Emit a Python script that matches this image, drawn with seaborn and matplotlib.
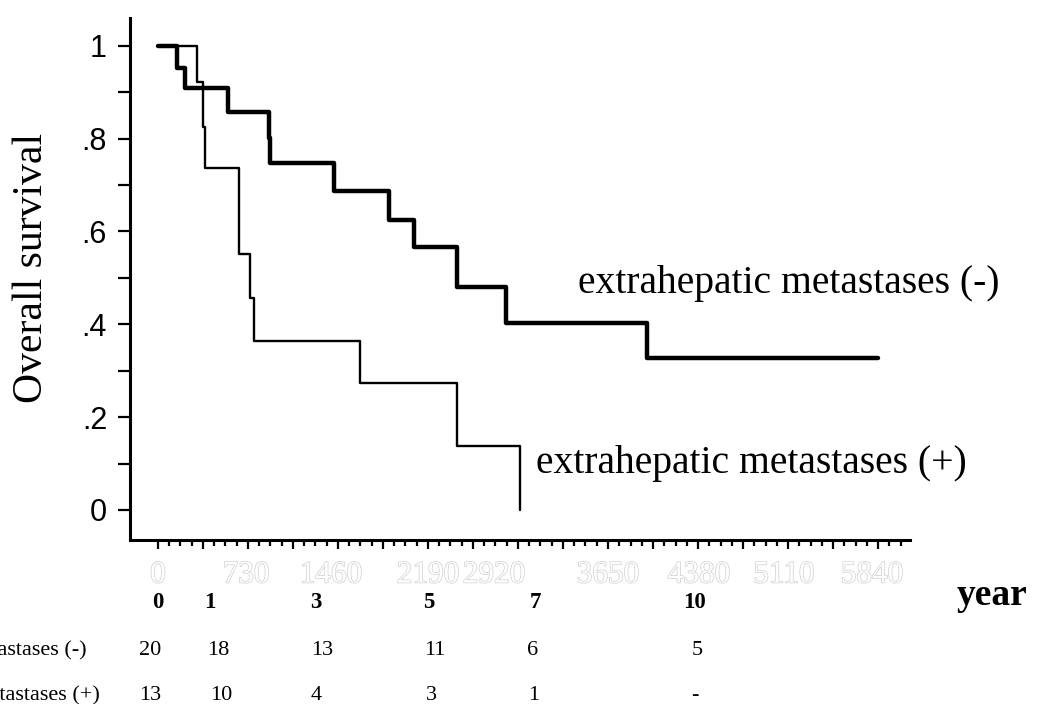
import matplotlib.pyplot as plt
import matplotlib.patheffects as pe
from matplotlib.transforms import blended_transform_factory
import seaborn as sns
import pandas as pd
import numpy as np

"""data read off the figure (days, survival)"""
days_neg = [0, 152, 219, 568, 900, 908, 1428, 1874, 2076, 2425, 2823, 3966, 5840]
surv_neg = [1.0, 0.952, 0.909, 0.857, 0.802, 0.748, 0.687, 0.625, 0.567, 0.481, 0.403, 0.327, 0.327]
days_pos = [0, 316, 365, 381, 657, 746, 779, 1638, 2425, 2936]
surv_pos = [1.0, 0.922, 0.826, 0.737, 0.552, 0.457, 0.364, 0.274, 0.138, 0.0]

day_labels = ["0", "730", "1460", "2190", "2920", "3650", "4380", "5110", "5840"]
day_label_x = [0, 714, 1403, 2190, 2725, 3650, 4388, 5077, 5791]
year_labels = ["0", "1", "3", "5", "7", "10"]
year_x = [0, 420, 1280, 2200, 3060, 4350]
risk_neg = ["20", "18", "13", "11", "6", "5"]
risk_neg_x = [-65, 487, 1330, 2247, 3042, 4372]
risk_pos = ["13", "10", "4", "3", "1", "-"]
risk_pos_x = [-65, 511, 1282, 2222, 3050, 4356]
group_names = ["extrahepatic metastases (-)", "extrahepatic metastases (+)"]

df_neg = pd.DataFrame({"day": days_neg, "surv": surv_neg})
df_pos = pd.DataFrame({"day": days_pos, "surv": surv_pos})

sns.set_style("ticks")
plt.rcParams['font.family'] = ['Liberation Serif', 'DejaVu Serif']
plt.rcParams['text.color'] = 'black'
plt.rcParams['axes.labelcolor'] = 'black'
plt.rcParams['xtick.color'] = 'black'
plt.rcParams['ytick.color'] = 'black'

fig = plt.figure(figsize=(10.39, 7.04), dpi=100)
ax = fig.add_axes([0.1251, 0.2330, 0.7507, 0.7414])

sns.lineplot(data=df_neg, x="day", y="surv", drawstyle="steps-post", color="black",
             linewidth=3.2, estimator=None, sort=False, ax=ax)
sns.lineplot(data=df_pos, x="day", y="surv", drawstyle="steps-post", color="black",
             linewidth=1.7, estimator=None, sort=False, ax=ax)

ax.set_xlim(-227, 6099)
ax.set_ylim(-0.0647, 1.060)
sns.despine(ax=ax)
for s in ["left", "bottom"]:
    ax.spines[s].set_linewidth(2.2)
    ax.spines[s].set_color("black")

ax.set_yticks([0, 0.2, 0.4, 0.6, 0.8, 1.0])
ax.set_yticklabels(["0", ".2", ".4", ".6", ".8", "1"])
ax.set_yticks([0.1, 0.3, 0.5, 0.7, 0.9], minor=True)
ax.tick_params(axis="y", which="both", length=8.5, width=1.6, direction="out",
               pad=8, labelsize=22, color="black", labelcolor="black")
for lbl in ax.get_yticklabels():
    lbl.set_fontfamily("Liberation Sans")

ax.set_xticks(np.arange(0, 5841, 365))
ax.set_xticklabels([])
ax.set_xticks(np.arange(0, 6050, 91.25), minor=True)
ax.tick_params(axis="x", which="major", length=6.5, width=1.6, direction="out", color="black")
ax.tick_params(axis="x", which="minor", length=4.5, width=1.6, direction="out", color="black")
ax.set_xlabel("")
ax.set_ylabel("")

fig.text(0.0308, 0.619, "Overall survival", rotation=90, ha="center", va="center", fontsize=30)

ax.text(3407, 0.4677, group_names[0], fontsize=28.5, va="baseline", ha="left")
ax.text(3066, 0.0797, group_names[1], fontsize=28.5, va="baseline", ha="left")

trans = blended_transform_factory(ax.transData, fig.transFigure)
for x, t in zip(day_label_x, day_labels):
    ax.text(x, 0.1832, t, transform=trans, ha="center", va="center", fontsize=22.5,
            color="white", clip_on=False,
            path_effects=[pe.Stroke(linewidth=1.0, foreground="#cfcfcf"), pe.Normal()])
for x, t in zip(year_x, year_labels):
    ax.text(x, 0.1364, t, transform=trans, ha="center", va="baseline", fontsize=16.5,
            fontweight="bold", clip_on=False)
for x, t in zip(risk_neg_x, risk_neg):
    ax.text(x, 0.0696, t, transform=trans, ha="center", va="baseline", fontsize=16, clip_on=False)
for x, t in zip(risk_pos_x, risk_pos):
    ax.text(x, 0.0057, t, transform=trans, ha="center", va="baseline", fontsize=16, clip_on=False)

fig.text(0.921, 0.1406, "year", fontsize=27, fontweight="bold", va="baseline", ha="left")
fig.text(0.0837, 0.0696, group_names[0], fontsize=16, va="baseline", ha="right")
fig.text(0.0962, 0.0057, group_names[1], fontsize=16, va="baseline", ha="right")

fig.savefig("out.png", dpi=100)
